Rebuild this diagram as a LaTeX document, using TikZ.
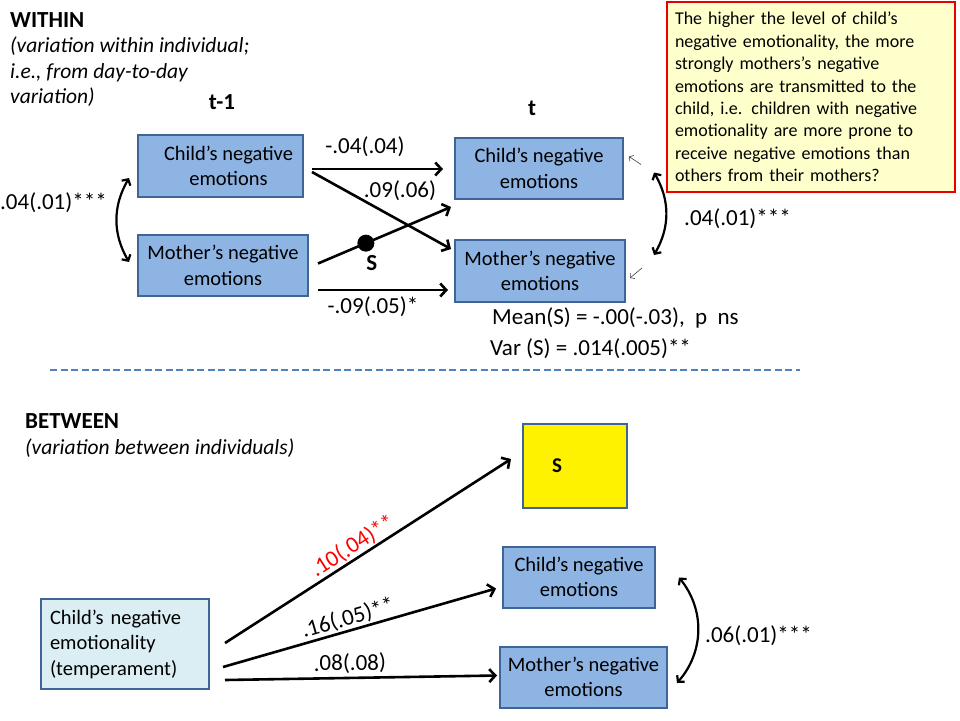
\documentclass[tikz,border=0pt]{standalone}
\usepackage{fontspec}
\setmainfont{Carlito}
\usetikzlibrary{arrows.meta, positioning, calc}

\definecolor{boxblue}{RGB}{142,180,227}
\definecolor{boxedge}{RGB}{62,100,152}
\definecolor{paleblue}{RGB}{219,238,244}
\definecolor{noteyellow}{RGB}{255,255,204}
\definecolor{dashblue}{RGB}{79,129,189}
\definecolor{notered}{RGB}{230,0,0}

\begin{document}
\begin{tikzpicture}[
        x=1pt, y=-1pt,
        box/.style={rectangle, draw=boxedge, line width=2pt, fill=boxblue, minimum height=61pt, align=center, inner sep=0pt, font=\fontsize{20.5}{25.5}\selectfont},
        tempbox/.style={box, fill=paleblue, align=left, text width=150pt, minimum width=168pt, minimum height=90pt},
        sbox/.style={box, fill=yellow, minimum width=104pt, minimum height=84pt, font=\fontsize{21}{25}\selectfont\bfseries},
        note/.style={rectangle, draw=notered, line width=2pt, fill=noteyellow, align=left, text width=272pt, minimum width=288pt, minimum height=190pt, inner sep=0pt, font=\fontsize{18}{22.4}\selectfont},
        lbl/.style={inner sep=0pt, font=\fontsize{23}{26}\selectfont},
        head/.style={inner sep=0pt, font=\fontsize{23}{26}\selectfont\bfseries},
        sub/.style={inner sep=0pt, align=left, font=\fontsize{21.5}{25.5}\selectfont\itshape},
        stat/.style={inner sep=0pt, font=\fontsize{23}{31}\selectfont},
        arrow/.style={line width=2.6pt, -{Straight Barb[length=6pt, width=13pt]}},
        dblarrow/.style={line width=2.2pt, {Straight Barb[length=4.5pt, width=10pt]}-{Straight Barb[length=4.5pt, width=10pt]}},
        thinarrow/.style={line width=0.6pt, draw=black!75, -{Straight Barb[length=3pt, width=7pt]}},
        sdot/.style={circle, fill=black, minimum size=17pt, inner sep=0pt}
    ]
        % Within part
        \node[head, anchor=west] (within) at (10,20) {WITHIN};
        \node[sub, anchor=north west] (withinsub) at (10,37) {(variation within individual;\\i.e., from day-to-day\\variation)};
        \node[head] (tprev) at (222,102) {t-1};
        \node[head] (tnow) at (532,108) {t};

        \node[box, minimum width=165pt, minimum height=62pt] (c1) at (220.5,166) {\hspace*{16pt}Child’s negative\\\hspace*{16pt}emotions};
        \node[box, minimum width=170pt] (m1) at (223,265.5) {Mother’s negative\\emotions};
        \node[box, minimum width=168pt] (c2) at (539,168.5) {Child’s negative\\emotions};
        \node[box, minimum width=170pt, minimum height=62pt] (m2) at (540,271) {Mother’s negative\\emotions};

        % Question
        \node[note] (question) at (811,97) {The higher the level of child’s\\negative emotionality, the more\\strongly mothers’s negative\\emotions are transmitted to the\\child, i.e. children with negative\\emotionality are more prone to\\receive negative emotions than\\others from their mothers?};

        % Paths
        \draw[arrow] ($(c1.east)+(8,3)$) -- ($(c2.west)+(-11,0.5)$);
        \draw[arrow] ($(c1.east)+(8,6)$) -- ($(m2.north west)+(-3,10)$);
        \draw[arrow] ($(m1.east)+(9,-2)$) -- ($(c2.south west)+(-3,7)$) node[pos=0.36, sdot] (slope) {};
        \draw[arrow] ($(m1.east)+(9,24.5)$) -- ($(m2.west)+(-6,19)$);
        \draw[dblarrow] ($(c1.west)+(-8,12)$) to[bend right=30] ($(m1.west)+(-8,-3.5)$);
        \draw[dblarrow] ($(c2.east)+(30,4)$) to[bend left=30] ($(m2.east)+(28,-16)$);

        \coordinate (c2tip) at ($(c2.east)+(5,-12)$);
        \coordinate (c2tail) at ($(c2.east)+(17,-4)$);
        \coordinate (m2tip) at ($(m2.east)+(4,7)$);
        \coordinate (m2tail) at ($(m2.east)+(16,-3)$);
        \draw[thinarrow] (c2tail) -- (c2tip);
        \draw[thinarrow] (m2tail) -- (m2tip);

        % Estimates
        \node[lbl] (cc) at (365,147) {-.04(.04)};
        \node[lbl] (mc) at (400,191) {.09(.06)};
        \node[lbl] (mm) at (373,307) {-.09(.05)*};
        \node[lbl, anchor=west] (covprev) at (0,203) {.04(.01)***};
        \node[lbl, anchor=west] (covnow) at (684,219) {.04(.01)***};
        \node[head] (slabel) at ($(slope)+(6,20)$) {S};
        \node[stat, anchor=west] (mean) at (492,318) {Mean(S) = -.00(-.03),\ \ p\ \ ns};
        \node[stat, anchor=west] (var) at (490,349) {Var (S) = .014(.005)**};

        % Separator
        \draw[dashblue, line width=2.5pt, dash pattern=on 7pt off 3.5pt] (50,370) -- (800,370);

        % Between part
        \node[head, anchor=west] (between) at (25,421) {BETWEEN};
        \node[sub, anchor=west] (betweensub) at (25,448) {(variation between individuals)};

        \node[sbox] (s) at (575,466) {S\hspace{36pt}};
        \node[box, minimum width=152pt] (cb) at (579,577) {Child’s negative\\emotions};
        \node[box, minimum width=167pt] (mb) at (583.5,677) {Mother’s negative\\emotions};
        \node[tempbox] (temp) at (125,644) {Child’s negative\\emotionality\\(temperament)};

        \draw[arrow] ($(temp.east)+(15,-1)$) -- ($(s.west)+(-11,-7)$)
            node[pos=0.47, sloped, above=1pt, lbl, text=red] (ts) {.10(.04)**};
        \draw[arrow] ($(temp.east)+(13,23)$) -- ($(cb.west)+(-6,11.5)$)
            node[pos=0.47, sloped, above=1pt, lbl] (tc) {.16(.05)**};
        \draw[arrow] ($(temp.east)+(15,36)$) -- ($(mb.west)+(-2,-1.5)$)
            node[pos=0.46, sloped, above=3pt, lbl] (tm) {.08(.08)};
        \draw[dblarrow] ($(cb.east)+(23,0.5)$) to[bend left=40] ($(mb.east)+(9,6)$);
        \node[lbl, anchor=west] (covb) at (705,636) {.06(.01)***};

        \useasboundingbox (0,0) rectangle (960,720);
    \end{tikzpicture}
\end{document}
